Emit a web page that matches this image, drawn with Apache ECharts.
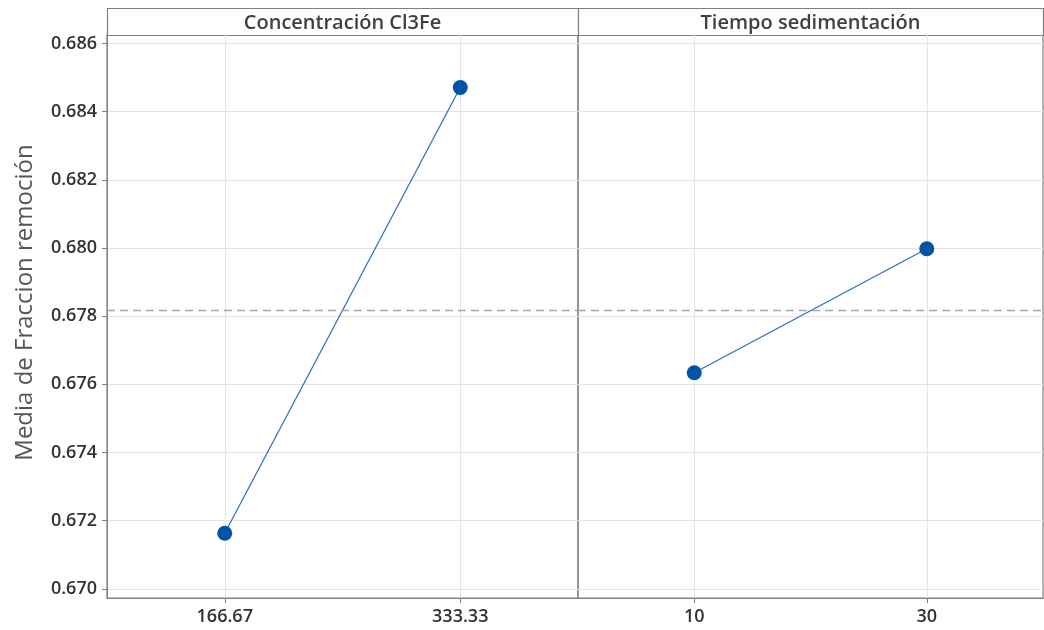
<!DOCTYPE html>
<html>
<head>
<meta charset="utf-8">
<script src="https://cdn.jsdelivr.net/npm/echarts@6/dist/echarts.min.js"></script>
<style>
  html, body { margin: 0; padding: 0; background: #fff; }
  #chart { width: 1044px; height: 630px; }
</style>
</head>
<body>
<div id="chart"></div>
<script>
// Main effects on mean "Fraccion remoción"
const panelTitles = ['Concentración Cl3Fe', 'Tiempo sedimentación'];
const concLevels = ['166.67', '333.33'];
const concMeans = [0.67163, 0.68471];
const timeLevels = ['10', '30'];
const timeMeans = [0.67634, 0.67998];
const overallMean = 0.67817;
const yTicks = [0.670, 0.672, 0.674, 0.676, 0.678, 0.680, 0.682, 0.684, 0.686];
const yTitle = 'Media de Fraccion remoción';

const FONT = '"Open Sans", "Noto Sans", sans-serif';
const FRAME = '#808080';
const GRID = '#e4e4e4';
const BLUE = '#0054a6';
const yMin = 0.66973, yMax = 0.68625;

const plotTop = 35, plotHeight = 563;
const grids = [
  { left: 107, top: plotTop, width: 471, height: plotHeight },
  { left: 578, top: plotTop, width: 465, height: plotHeight }
];

function xAxisFor(idx, cats) {
  return {
    type: 'category', gridIndex: idx, data: cats, boundaryGap: true,
    axisLine: { show: true, lineStyle: { color: FRAME, width: 1 } },
    axisTick: { show: true, alignWithLabel: true, length: 5, lineStyle: { color: FRAME } },
    axisLabel: { color: '#333', fontFamily: FONT, fontSize: 18, fontWeight: 600, margin: 10 },
    splitLine: { show: true, alignWithLabel: true, lineStyle: { color: GRID, width: 1 } }
  };
}

function yAxisFor(idx, showLabels) {
  return {
    type: 'value', gridIndex: idx, min: yMin, max: yMax,
    axisLine: { show: showLabels, lineStyle: { color: FRAME, width: 1 } },
    axisTick: { show: showLabels, length: 5, customValues: yTicks, lineStyle: { color: FRAME } },
    axisLabel: {
      show: showLabels, customValues: yTicks, color: '#333', fontFamily: FONT,
      fontSize: 18, fontWeight: 600, margin: 10,
      formatter: v => v.toFixed(3)
    },
    splitLine: { show: true, lineStyle: { color: GRID, width: 1 } },
    name: showLabels ? yTitle : '',
    nameLocation: 'middle', nameGap: 70,
    nameTextStyle: { color: '#555', fontFamily: FONT, fontSize: 24, padding: [0, 0, 0, 28] }
  };
}

function meanLine() {
  return {
    silent: true, symbol: 'none', precision: 6, label: { show: false },
    lineStyle: { color: '#a6a6a6', type: [8, 5], width: 1.3 },
    data: [{ yAxis: overallMean }]
  };
}

function effectSeries(idx, values) {
  return {
    type: 'line', xAxisIndex: idx, yAxisIndex: idx, data: values,
    symbol: 'circle', symbolSize: 15, showSymbol: true,
    itemStyle: { color: BLUE },
    lineStyle: { color: '#2a6cc0', width: 1.2 },
    markLine: meanLine(),
    animation: false
  };
}

const chart = echarts.init(document.getElementById('chart'), null, { renderer: 'canvas' });

const headerGraphics = grids.map((g, i) => ({
  type: 'group',
  children: [
    { type: 'rect', shape: { x: g.left + 0.5, y: 8.5, width: g.width, height: plotTop - 8 },
      style: { fill: '#fff', stroke: FRAME, lineWidth: 1.2 } },
    { type: 'text', x: g.left + g.width / 2, y: 23,
      style: { text: panelTitles[i], fill: '#404040', font: '600 20px ' + FONT,
               align: 'center', verticalAlign: 'middle' } }
  ]
}));

chart.setOption({
  animation: false,
  grid: grids.map(g => Object.assign({ show: true, borderColor: FRAME, borderWidth: 1.2, backgroundColor: 'transparent' }, g)),
  xAxis: [xAxisFor(0, concLevels), xAxisFor(1, timeLevels)],
  yAxis: [yAxisFor(0, true), yAxisFor(1, false)],
  series: [effectSeries(0, concMeans), effectSeries(1, timeMeans)],
  graphic: headerGraphics
});
</script>
</body>
</html>
